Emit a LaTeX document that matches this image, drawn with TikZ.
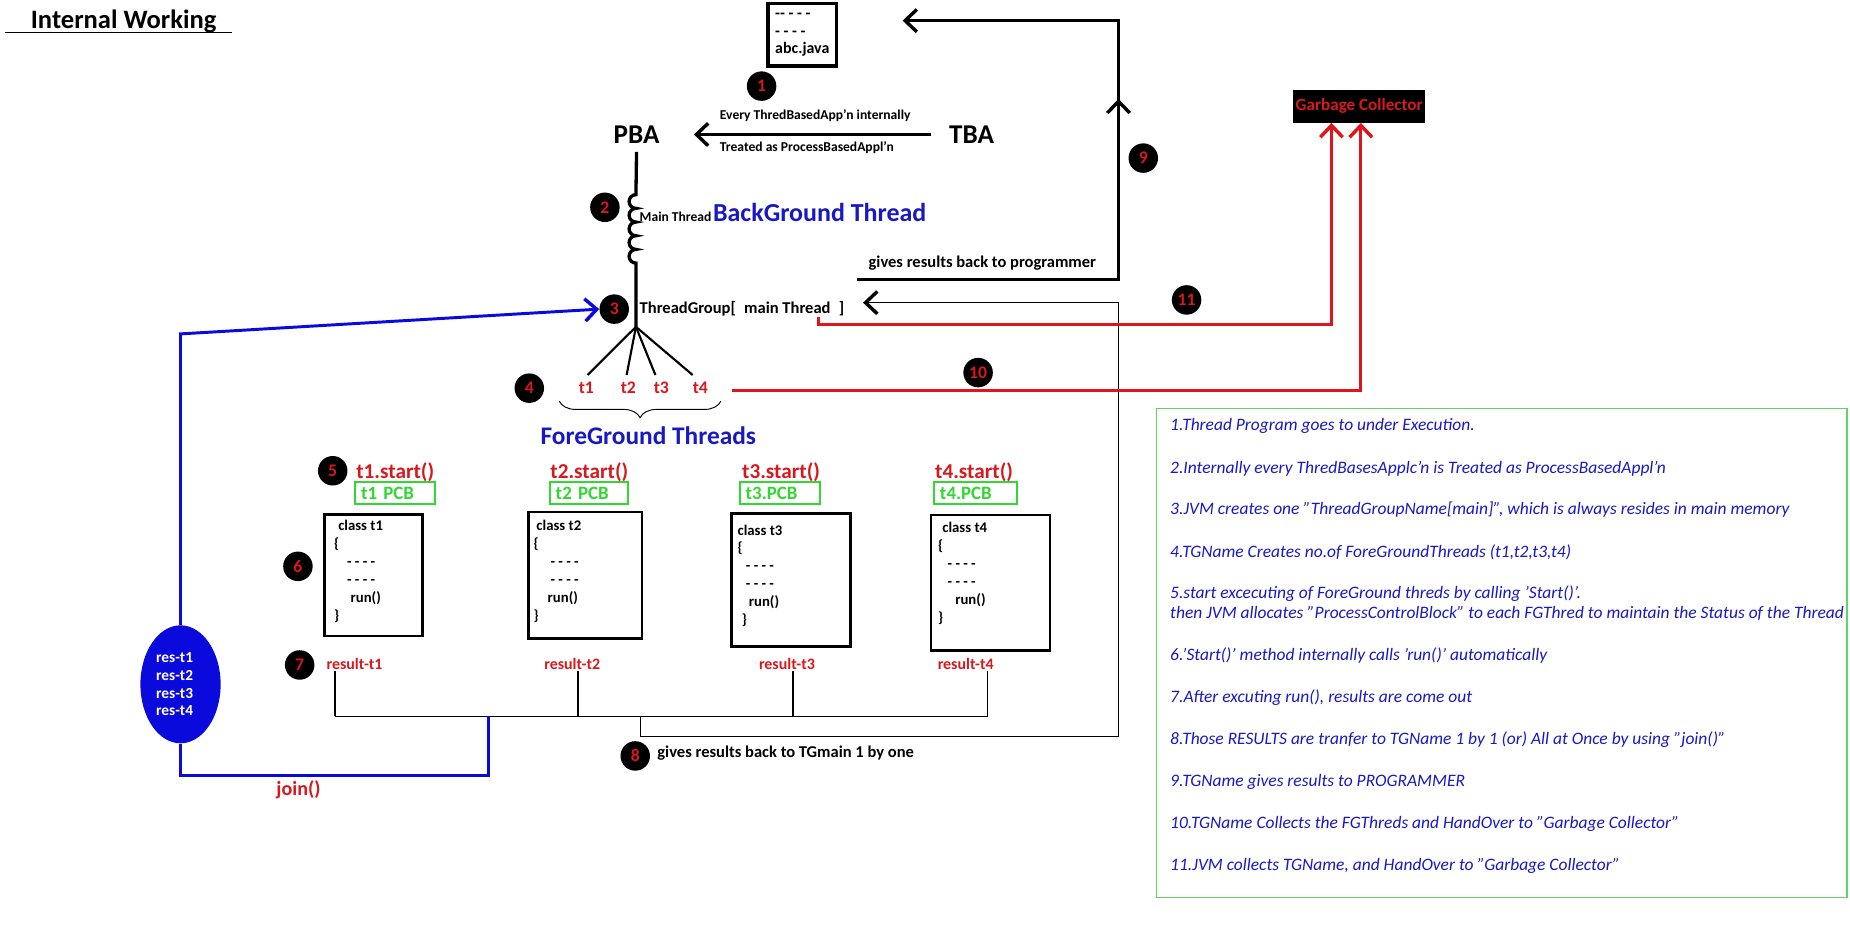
\documentclass[tikz,border=0pt]{standalone}
\usepackage{fontspec}
\setmainfont{Carlito}
\usetikzlibrary{arrows.meta, decorations.markings, decorations.pathreplacing, shapes.geometric}

\definecolor{tred}{RGB}{215,25,30}
\definecolor{lred}{RGB}{225,20,25}
\definecolor{tblue}{RGB}{25,25,195}
\definecolor{lblue}{RGB}{10,10,220}
\definecolor{pgreen}{RGB}{50,215,50}
\definecolor{ngreen}{RGB}{100,210,100}

\tikzset{
  >={Straight Barb[length=10pt,width=19pt,line width=2.9pt]},
  thickline/.style={line width=2.8pt},
  thinline/.style={line width=1.1pt},
  redline/.style={line width=2.4pt, draw=lred},
  blueline/.style={line width=2.5pt, draw=lblue},
  lbl/.style={font=\bfseries\fontsize{#1}{#1}\selectfont, inner sep=1pt},
  badge/.style={circle, fill=black, text=tred, minimum size=25pt, inner sep=0pt,
    font=\bfseries\fontsize{15}{15}\selectfont},
  startlbl/.style={lbl=18, text=tred},
  pcb/.style={lbl=16, draw=pgreen, line width=1.8pt, text=pgreen, align=left,
    inner xsep=5pt, inner ysep=0pt, minimum height=19pt},
  codebox/.style={draw, line width=2.2pt, inner sep=0pt},
  code/.style={anchor=north west, align=left, inner sep=0pt,
    font=\bfseries\fontsize{12.5}{15.2}\selectfont},
  reslbl/.style={lbl=13.5, text=tred},
  note/.style={anchor=west, inner sep=0pt, text=tblue,
    font=\itshape\fontsize{14.8}{14.8}\selectfont}
}

\begin{document}
\begin{tikzpicture}[x=1pt, y=-1pt]
  \useasboundingbox (0,0) rectangle (1568,792);
  \fill[white] (0,0) rectangle (1568,792);

  % title
  \node[lbl=22.5, anchor=west] (title) at (25,18) {Internal Working};
  \draw[thinline] (4,27.5) -- (197,27.5);

  % numbered steps
  \foreach \n/\x/\y in {1/645.5/73, 2/512.7/175.7, 3/520.6/262, 4/448.6/329,
      5/282/399, 6/252.5/480, 7/254/563.6, 8/538.4/640.7, 9/969/134,
      10/829/315.8, 11/1005.7/254.2}
    \node[badge] (b\n) at (\x,\y) {\n};

  % program, PBA and TBA
  \node[draw, line width=2.8pt, minimum width=58pt, minimum height=53pt, inner sep=0pt,
    align=left, font=\bfseries\fontsize{13.5}{15}\selectfont] (src) at (680,29.5)
    {-{}- - - -\\- - - -\\abc.java};
  \node[lbl=23] (pba) at (539.5,114) {PBA};
  \node[lbl=23] (tba) at (823.5,114) {TBA};
  \draw[thickline, ->] ([xshift=-14pt]tba.west) -- ([xshift=28pt]pba.east);
  \node[lbl=11.5, anchor=west] (every) at (609,98) {Every ThredBasedApp'n internally};
  \node[lbl=11.5, anchor=west] (treated) at (609,125) {Treated as ProcessBasedAppl'n};

  % main thread
  \coordinate (fan) at (539,277);
  \draw[thickline] ([yshift=-6pt]pba.south) -- (539,165)
    \foreach \k in {1,...,5} {arc[start angle=90, end angle=270, radius=5.8pt]} -- (fan);
  \node[lbl=11.5, anchor=base west] (mainthr) at (541,188) {Main Thread};
  \node[lbl=22, anchor=base west, text=tblue, inner xsep=0pt] (bgthr) at (mainthr.base east) {BackGround Thread};
  \node[lbl=14, anchor=west] (tg) at (541,262) {ThreadGroup[\hspace{7pt}main Thread\hspace{7pt}]};

  % foreground threads
  \foreach \i/\x in {1/497, 2/532.6, 3/560.5, 4/593.6}
    \node[lbl=15, text=tred] (t\i) at (\x,329) {t\i};
  \foreach \i/\dx in {1/1, 2/-1.5, 3/-5, 4/-6.5}
    \draw[line width=1.8pt] (fan) -- ([xshift=\dx pt, yshift=5pt]t\i.north);
  \draw[line width=0.8pt, decorate, decoration={brace, amplitude=14pt}] (611,340) -- (474,340);
  \node[lbl=21.5, text=tblue] (fg) at (549.5,369) {ForeGround Threads};

  % start() and PCB
  \foreach \i/\x in {1/335, 2/499.5, 3/662, 4/825.6}
    \node[startlbl] (st\i) at (\x,400) {t\i.start()};
  \foreach \i/\x/\w/\txt in {1/335/58/{t1 PCB}, 2/499/56/{t2 PCB}, 3/661/58/{t3.PCB}, 4/826.7/60/{t4.PCB}}
    \node[pcb, text width=\w pt] (pcb\i) at (\x,418) {\txt};

  % thread classes
  \foreach \i/\x/\y/\w/\h in {1/316.5/487.5/83/103, 2/496/487.5/96/107, 3/670.5/491.5/101/113, 4/839.5/494/101/115}
    \node[codebox, minimum width=\w pt, minimum height=\h pt] (cls\i) at (\x,\y) {};
  \node[code] (code1) at (283,441) {\hspace*{3.5pt}class t1\\\{\\\hspace*{11pt}- - - -\\\hspace*{11pt}- - - -\\\hspace*{14pt}run()\\\}};
  \node[code] (code2) at (452,441) {\hspace*{2.5pt}class t2\\\{\\\hspace*{14.5pt}- - - -\\\hspace*{14.5pt}- - - -\\\hspace*{12pt}run()\\\}};
  \node[code] (code3) at (625,444.5) {class t3\\\{\\\hspace*{7pt}- - - -\\\hspace*{7pt}- - - -\\\hspace*{9.5pt}run()\\\hspace*{3.5pt}\}};
  \node[code] (code4) at (795,442.5) {\hspace*{3.5pt}class t4\\\{\\\hspace*{8pt}- - - -\\\hspace*{8pt}- - - -\\\hspace*{14.5pt}run()\\\}};

  % results
  \foreach \i/\x in {1/300.5, 2/485, 3/667, 4/818.5}
    \node[reslbl] (res\i) at (\x,563) {result-t\i};
  \foreach \i/\x in {1/284, 2/489.8, 3/672, 4/837}
    \coordinate (bus\i) at (\x,607);
  \foreach \i in {1,...,4}
    \draw[thinline] (res\i.south -| bus\i) -- (bus\i);
  \draw[thinline] (bus1) -- (bus4);
  \coordinate (loopA) at (543,607);
  \coordinate (loopB) at (948,624);
  \coordinate (tgin) at (731.5,256.5);
  \draw[thinline, ->] (loopA) |- (loopB) |- (tgin);
  \node[lbl=14, anchor=west] (tgmain) at (556,638.5) {gives results back to TGmain 1 by one};

  % join()
  \node[ellipse, fill=lblue, minimum width=68pt, minimum height=100pt, inner sep=0pt] (resbag) at (153,580) {};
  \node[align=left, text=white, inner sep=0pt, font=\bfseries\fontsize{13}{15}\selectfont] (restxt) at (148,580) {res-t1\\res-t2\\res-t3\\res-t4};
  \coordinate (bcorner) at (153,283);
  \draw[blueline, ->] (resbag.north) -- (bcorner) -- (b3.west);
  \coordinate (jn) at (414,657);
  \coordinate (busj) at (414,607);
  \draw[blueline] (resbag.south) |- (jn) -- (busj);
  \node[lbl=17, text=tred] (join) at (253,669) {join()};

  % back to programmer
  \coordinate (progL) at (726,236.7);
  \coordinate (progR) at (948,236.7);
  \coordinate (progT) at (948,17.5);
  \coordinate (progTip) at (765,17.5);
  \draw[thickline, ->, decoration={markings, mark=at position 375pt with {\arrow{>}}}, postaction={decorate}]
    (progL) -- (progR) -- (progT) -- (progTip);
  \node[lbl=14, anchor=west] (prog) at (735,223) {gives results back to programmer};

  % garbage collector
  \node[lbl=14.5, fill=black, text=tred, minimum width=112pt, minimum height=28pt, inner sep=0pt] (gc) at (1152,90) {Garbage Collector};
  \coordinate (mtout) at (694,269);
  \coordinate (c11) at (1128.5,275);
  \draw[redline, ->] (mtout) |- (c11) -- (c11 |- gc.south);
  \coordinate (t4out) at (620,331);
  \coordinate (c10) at (1153.4,331);
  \draw[redline, ->] (t4out) -- (c10) -- (c10 |- gc.south);

  % notes
  \draw[ngreen, line width=1pt] (980.3,346) rectangle (1565.5,760.5);
  \foreach \i/\y/\txt in {
      1/361/{1.Thread Program goes to under Execution.},
      2/397/{2.Internally every ThredBasesApplc'n is Treated as ProcessBasedAppl'n},
      3/432/{3.JVM creates one "ThreadGroupName[main]", which is always resides in main memory},
      4/468/{4.TGName Creates no.of ForeGroundThreads (t1,t2,t3,t4)},
      5/503/{5.start excecuting of ForeGround threds by calling 'Start()'.},
      5b/520/{then JVM allocates "ProcessControlBlock" to each FGThred to maintain the Status of the Thread},
      6/556/{6.'Start()' method internally calls 'run()' automatically},
      7/591/{7.After excuting run(), results are come out},
      8/627/{8.Those RESULTS are tranfer to TGName 1 by 1 (or) All at Once by using "join()"},
      9/662.5/{9.TGName gives results to PROGRAMMER},
      10/698/{10.TGName Collects the FGThreds and HandOver to "Garbage Collector"},
      11/733.6/{11.JVM collects TGName, and HandOver to "Garbage Collector"}}
    \node[note] (note\i) at (991.6,\y) {\txt};
\end{tikzpicture}
\end{document}
